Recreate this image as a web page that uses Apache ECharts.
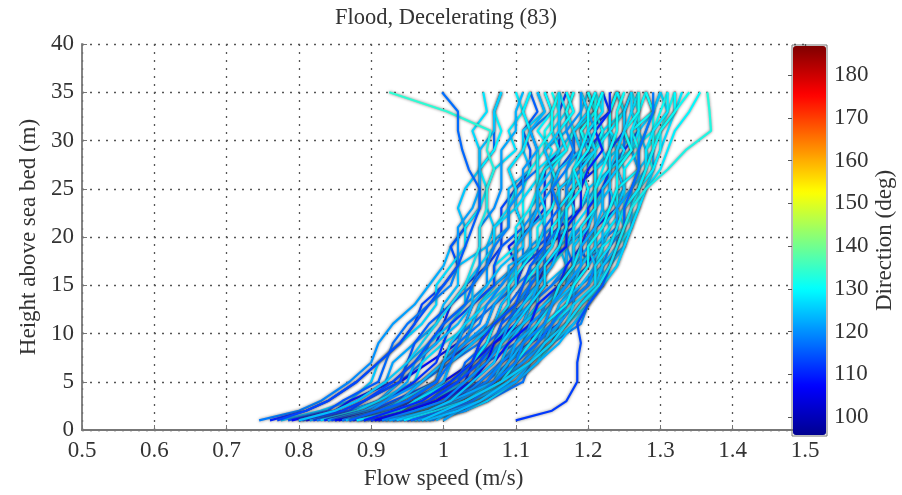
<!DOCTYPE html>
<html><head><meta charset="utf-8">
<script src="https://cdn.jsdelivr.net/npm/echarts@6/dist/echarts.min.js"></script>
<style>html,body{margin:0;padding:0;background:#fff}#c{width:902px;height:495px}</style>
</head><body><div id="c"></div>
<script>
const titleText = 'Flood, Decelerating (83)';
const xName = 'Flow speed (m/s)';
const yName = 'Height above sea bed (m)';
const cbName = 'Direction (deg)';
const heights = [1,2,3,5,7,9,11,13,15,17,19,21,23,25,27,29,31,33,35];
const speeds = [
[.745,.80,.83,.87,.90,.91,.93,.96,.98,1.00,1.01,1.03,1.02,1.03,1.05,1.05,1.04,1.06,1.055],
[.76,.81,.84,.88,.91,.94,.96,.97,1.00,1.02,1.01,1.03,1.05,1.05,1.05,1.07,1.07,1.07,1.08],
[.775,.83,.87,.90,.91,.94,.97,.99,.99,1.01,1.03,1.03,1.05,1.06,1.05,1.07,1.08,1.07,1.08],
[.785,.84,.86,.91,.92,.93,.95,.98,1.01,1.02,1.02,1.02,1.04,1.05,1.05,1.05,1.07,1.07,1.08],
[.79,.85,.87,.93,.96,.99,1.00,1.01,1.03,1.06,1.08,1.08,1.08,1.10,1.12,1.12,1.11,1.13,1.12],
[.80,.85,.88,.92,.93,.96,.99,1.00,1.02,1.02,1.06,1.07,1.06,1.06,1.07,1.10,1.09,1.11,1.10],
[.805,.86,.89,.94,.97,.98,1.00,1.03,1.06,1.06,1.06,1.09,1.09,1.09,1.12,1.11,1.11,1.14,1.13],
[.81,.87,.91,.94,.98,1.02,1.03,1.04,1.07,1.10,1.09,1.12,1.14,1.14,1.14,1.16,1.16,1.16,1.17],
[.815,.87,.91,.94,.95,.98,1.01,1.03,1.03,1.05,1.07,1.07,1.09,1.10,1.09,1.11,1.12,1.11,1.12],
[.82,.87,.89,.94,.95,.96,.98,1.01,1.04,1.05,1.05,1.05,1.07,1.08,1.08,1.08,1.10,1.10,1.11],
[.825,.89,.91,.97,1.00,1.03,1.04,1.05,1.07,1.10,1.12,1.12,1.12,1.14,1.16,1.16,1.15,1.17,1.16],
[.83,.88,.91,.96,.97,1.00,1.04,1.05,1.07,1.07,1.10,1.11,1.11,1.11,1.12,1.14,1.14,1.16,1.15],
[.835,.89,.92,.96,.99,1.00,1.01,1.04,1.07,1.07,1.08,1.11,1.10,1.10,1.13,1.13,1.12,1.15,1.14],
[.84,.90,.94,.97,1.01,1.05,1.06,1.07,1.10,1.13,1.12,1.15,1.17,1.17,1.17,1.19,1.19,1.19,1.20],
[.84,.89,.92,.95,.96,.99,1.02,1.04,1.04,1.06,1.07,1.07,1.10,1.10,1.09,1.11,1.12,1.11,1.12],
[.845,.90,.93,.99,1.00,1.01,1.04,1.07,1.10,1.11,1.11,1.11,1.13,1.15,1.15,1.14,1.17,1.17,1.18],
[.85,.90,.92,.97,1.00,1.02,1.03,1.04,1.06,1.08,1.11,1.11,1.10,1.12,1.14,1.15,1.13,1.15,1.14],
[.85,.91,.94,.99,1.00,1.04,1.07,1.08,1.10,1.11,1.14,1.15,1.15,1.15,1.16,1.18,1.18,1.20,1.19],
[.855,.92,.96,1.00,1.04,1.06,1.07,1.10,1.13,1.14,1.14,1.18,1.18,1.18,1.21,1.20,1.20,1.23,1.22],
[.86,.91,.94,.97,1.00,1.03,1.04,1.05,1.08,1.10,1.10,1.12,1.13,1.13,1.13,1.16,1.15,1.15,1.16],
[.86,.91,.95,.99,1.00,1.03,1.07,1.09,1.09,1.11,1.12,1.12,1.15,1.16,1.15,1.16,1.18,1.17,1.18],
[.865,.92,.94,.99,1.00,1.01,1.03,1.06,1.09,1.10,1.10,1.10,1.12,1.13,1.13,1.13,1.15,1.15,1.16],
[.87,.93,.95,1.01,1.04,1.07,1.08,1.09,1.11,1.14,1.16,1.16,1.16,1.18,1.20,1.20,1.19,1.21,1.20],
[.87,.92,.95,.99,1.00,1.03,1.06,1.07,1.09,1.09,1.13,1.14,1.13,1.13,1.14,1.17,1.16,1.18,1.17],
[.875,.93,.96,1.01,1.04,1.05,1.07,1.10,1.13,1.13,1.13,1.16,1.16,1.16,1.19,1.18,1.18,1.21,1.20],
[.88,.94,.98,1.01,1.05,1.09,1.10,1.11,1.14,1.17,1.16,1.19,1.21,1.21,1.21,1.23,1.23,1.23,1.24],
[.88,.93,.97,1.00,1.01,1.04,1.07,1.09,1.09,1.11,1.13,1.13,1.15,1.16,1.15,1.17,1.18,1.17,1.18],
[.885,.95,.98,1.04,1.05,1.07,1.09,1.12,1.15,1.17,1.17,1.17,1.19,1.21,1.21,1.20,1.23,1.23,1.24],
[.89,.94,.96,1.02,1.05,1.07,1.09,1.10,1.12,1.14,1.16,1.16,1.16,1.18,1.20,1.20,1.19,1.21,1.20],
[.89,.94,.96,1.00,1.01,1.04,1.07,1.08,1.10,1.10,1.13,1.14,1.14,1.13,1.14,1.17,1.16,1.18,1.17],
[.895,.95,.98,1.02,1.05,1.06,1.07,1.10,1.13,1.13,1.14,1.17,1.16,1.16,1.19,1.19,1.18,1.21,1.20],
[.90,.96,.99,1.03,1.06,1.10,1.11,1.12,1.15,1.18,1.17,1.19,1.21,1.21,1.21,1.23,1.23,1.23,1.24],
[.90,.95,.99,1.03,1.04,1.07,1.11,1.13,1.13,1.15,1.16,1.16,1.19,1.20,1.19,1.20,1.22,1.21,1.22],
[.905,.97,1.01,1.06,1.08,1.10,1.12,1.15,1.18,1.20,1.20,1.21,1.23,1.25,1.25,1.24,1.27,1.27,1.28],
[.91,.96,.98,1.03,1.06,1.08,1.09,1.10,1.12,1.14,1.17,1.17,1.16,1.18,1.20,1.21,1.19,1.21,1.20],
[.91,.96,.98,1.02,1.03,1.06,1.09,1.10,1.12,1.12,1.15,1.16,1.16,1.15,1.16,1.19,1.18,1.20,1.19],
[.915,.97,1.00,1.05,1.08,1.09,1.11,1.14,1.17,1.17,1.17,1.20,1.20,1.20,1.23,1.22,1.22,1.25,1.24],
[.92,.98,1.01,1.05,1.08,1.12,1.13,1.14,1.17,1.20,1.19,1.21,1.23,1.23,1.23,1.25,1.25,1.25,1.26],
[.92,.97,1.01,1.04,1.05,1.08,1.11,1.13,1.13,1.15,1.17,1.17,1.19,1.20,1.19,1.21,1.22,1.21,1.22],
[.925,.99,1.03,1.08,1.10,1.12,1.14,1.17,1.20,1.22,1.22,1.23,1.25,1.27,1.27,1.26,1.29,1.29,1.30],
[.93,.98,1.00,1.06,1.09,1.11,1.13,1.14,1.16,1.18,1.20,1.20,1.20,1.22,1.24,1.24,1.23,1.25,1.24],
[.93,.98,1.00,1.04,1.05,1.08,1.11,1.12,1.14,1.14,1.17,1.18,1.18,1.17,1.18,1.21,1.20,1.22,1.21],
[.935,1.00,1.03,1.08,1.11,1.13,1.14,1.17,1.20,1.21,1.21,1.24,1.24,1.24,1.27,1.26,1.26,1.29,1.28],
[.94,.99,1.02,1.05,1.08,1.11,1.12,1.13,1.16,1.18,1.18,1.20,1.21,1.21,1.21,1.24,1.23,1.23,1.24],
[.945,1.00,1.04,1.08,1.09,1.12,1.16,1.18,1.18,1.20,1.21,1.21,1.24,1.25,1.24,1.25,1.27,1.26,1.27],
[.95,1.00,1.02,1.07,1.08,1.09,1.11,1.14,1.17,1.18,1.18,1.18,1.20,1.21,1.21,1.21,1.23,1.23,1.24],
[.95,1.01,1.03,1.09,1.12,1.15,1.16,1.17,1.19,1.22,1.24,1.24,1.24,1.26,1.28,1.28,1.27,1.29,1.28],
[.955,1.01,1.04,1.08,1.09,1.12,1.15,1.16,1.18,1.18,1.22,1.23,1.22,1.22,1.23,1.26,1.25,1.27,1.26],
[.96,1.02,1.06,1.10,1.13,1.15,1.17,1.19,1.21,1.22,1.23,1.25,1.26,1.27,1.29,1.29,1.30,1.32,1.32],
[.96,1.01,1.04,1.08,1.11,1.14,1.16,1.17,1.20,1.22,1.21,1.23,1.25,1.25,1.25,1.27,1.27,1.27,1.28],
[.965,1.02,1.06,1.09,1.10,1.13,1.16,1.18,1.18,1.20,1.22,1.22,1.24,1.25,1.24,1.26,1.27,1.26,1.27],
[.97,1.02,1.05,1.10,1.13,1.15,1.17,1.20,1.22,1.24,1.25,1.25,1.27,1.28,1.29,1.28,1.30,1.31,1.32],
[.97,1.02,1.03,1.08,1.11,1.13,1.14,1.15,1.17,1.19,1.21,1.21,1.21,1.22,1.24,1.25,1.23,1.25,1.24],
[.975,1.03,1.06,1.11,1.12,1.15,1.19,1.20,1.22,1.22,1.25,1.26,1.26,1.26,1.27,1.29,1.29,1.31,1.30],
[.98,1.03,1.06,1.10,1.13,1.14,1.15,1.18,1.21,1.21,1.22,1.25,1.24,1.24,1.27,1.27,1.26,1.29,1.28],
[.98,1.03,1.05,1.08,1.11,1.14,1.15,1.16,1.19,1.21,1.20,1.22,1.24,1.23,1.23,1.26,1.25,1.25,1.26],
[.985,1.00,1.02,1.07,1.11,1.14,1.17,1.19,1.22,1.23,1.25,1.26,1.27,1.28,1.29,1.30,1.31,1.32,1.33],
[.99,1.01,1.04,1.09,1.12,1.15,1.18,1.20,1.21,1.23,1.24,1.26,1.27,1.27,1.29,1.30,1.30,1.32,1.32],
[1.00,1.02,1.04,1.08,1.12,1.15,1.17,1.19,1.22,1.23,1.24,1.25,1.26,1.27,1.28,1.29,1.29,1.30,1.31],
[1.00,1.02,1.035,1.10,1.13,1.16,1.18,1.20,1.22,1.24,1.25,1.26,1.27,1.28,1.30,1.31,1.32,1.34,1.355],
[.87,.91,.95,.99,1.01,1.02,1.05,1.06,1.08,1.10,1.10,1.12,1.13,1.13,1.15,1.14,1.16,1.16,1.16],
[.88,.94,.96,1.01,1.04,1.06,1.07,1.10,1.11,1.13,1.15,1.15,1.17,1.18,1.18,1.20,1.19,1.21,1.21],
[.90,.95,.98,1.02,1.05,1.07,1.08,1.11,1.12,1.14,1.14,1.16,1.17,1.17,1.19,1.19,1.21,1.20,1.21],
[.91,.96,1.00,1.04,1.07,1.09,1.12,1.13,1.16,1.17,1.19,1.20,1.20,1.22,1.23,1.23,1.25,1.25,1.26],
[.92,.96,1.00,1.03,1.06,1.07,1.09,1.11,1.13,1.13,1.15,1.16,1.16,1.18,1.18,1.19,1.20,1.20,1.21],
[.93,.98,1.02,1.06,1.08,1.11,1.12,1.15,1.16,1.18,1.19,1.21,1.21,1.23,1.23,1.24,1.25,1.25,1.26],
[.94,.98,1.02,1.07,1.09,1.10,1.13,1.15,1.16,1.18,1.18,1.20,1.21,1.21,1.23,1.23,1.24,1.24,1.25],
[.95,1.00,1.03,1.08,1.10,1.13,1.15,1.17,1.20,1.21,1.23,1.24,1.24,1.26,1.27,1.27,1.28,1.29,1.30],
[.96,1.00,1.03,1.07,1.10,1.11,1.13,1.15,1.16,1.18,1.19,1.19,1.21,1.21,1.22,1.23,1.24,1.24,1.25],
[.89,.93,.97,1.01,1.04,1.05,1.07,1.10,1.11,1.12,1.14,1.14,1.16,1.15,1.17,1.18,1.17,1.19,1.19],
[.905,.95,.99,1.04,1.06,1.07,1.10,1.12,1.14,1.14,1.17,1.17,1.19,1.19,1.20,1.22,1.21,1.23,1.23],
[.915,.96,1.00,1.03,1.06,1.08,1.09,1.12,1.13,1.15,1.16,1.17,1.17,1.19,1.19,1.21,1.20,1.22,1.22],
[.925,.98,1.01,1.07,1.09,1.11,1.14,1.15,1.18,1.19,1.21,1.21,1.23,1.24,1.24,1.26,1.26,1.27,1.27],
[.935,.98,1.01,1.04,1.07,1.08,1.10,1.12,1.14,1.14,1.16,1.17,1.17,1.19,1.18,1.20,1.21,1.21,1.22],
[.945,.99,1.03,1.08,1.10,1.12,1.14,1.17,1.18,1.20,1.20,1.22,1.23,1.24,1.24,1.26,1.25,1.27,1.27],
[.955,1.00,1.04,1.07,1.10,1.11,1.14,1.15,1.17,1.19,1.19,1.21,1.22,1.22,1.24,1.24,1.25,1.26,1.26],
[.965,1.01,1.05,1.10,1.12,1.14,1.17,1.19,1.21,1.22,1.24,1.25,1.25,1.27,1.28,1.28,1.29,1.31,1.31],
[.975,1.02,1.05,1.09,1.12,1.14,1.17,1.18,1.21,1.21,1.23,1.24,1.25,1.27,1.28,1.29,1.30,1.32,1.34],
[.80,.86,.89,.93,.96,.98,1.00,1.03,1.04,1.06,1.07,1.09,1.09,1.11,1.11,1.13,1.12,1.14,1.13],
[1.10,1.15,1.17,1.185,1.185,1.19,1.185,1.20,1.22,1.23,1.24,1.25,1.25,1.26,1.27,1.27,1.28,1.29,1.29],
[.80,.85,.88,.92,.95,.97,.99,1.01,1.03,1.04,1.05,1.05,1.06,1.06,1.07,1.06,1.065,1.005,.925],
[.77,.81,.84,.88,.91,.94,.96,.98,1.00,1.02,1.03,1.04,1.05,1.05,1.035,1.026,1.02,1.02,.998],
[.97,1.00,1.03,1.08,1.12,1.15,1.17,1.19,1.215,1.23,1.24,1.25,1.26,1.28,1.31,1.335,1.37,1.368,1.365]
];
const dirBottom = [118,110,124,114,108,120,116,106,122,112,
118,126,110,116,121,113,119,108,106,122,
117,124,112,118,109,120,126,115,111,121,
117,113,108,119,123,114,118,110,125,127,
116,120,112,118,107,122,115,119,113,124,
118,128,121,116,125,120,118,123,126,121,
115,127,112,108,122,117,120,114,125,110,
106,118,121,124,127,116,120,123,112,
112,124,113,124];
const dirTop = [128,118,130,126,116,129,127,112,130,124,
128,131,120,126,129,125,130,117,111,129,
127,131,123,128,118,129,131,126,122,130,
128,125,112,129,131,127,128,119,131,130,
127,129,124,128,112,130,126,129,125,130,
128,131,129,127,131,129,128,130,131,130,
126,131,123,113,130,127,129,125,131,121,
111,128,129,130,131,127,129,131,124,
118,134,117,133];
const colorbarTicks = [100,110,120,130,140,150,160,170,180];
const dirMin = 95.8, dirMax = 186.8;
const jetColors = ['#000090','#0000ff','#0080ff','#00ffff','#80ff80','#ffff00','#ff8000','#ff0000','#800000'];

function hex(h){ return [1,3,5].map(i=>parseInt(h.substr(i,2),16)); }
function jet(d){
  let t=(d-dirMin)/(dirMax-dirMin); t=Math.max(0,Math.min(1,t));
  const p=t*(jetColors.length-1); const i=Math.min(Math.floor(p), jetColors.length-2); const f=p-i;
  const a=hex(jetColors[i]), b=hex(jetColors[i+1]);
  return 'rgb('+a.map((v,k)=>Math.round(v+(b[k]-v)*f)).join(',')+')';
}
const font = '"Liberation Serif", "Times New Roman", serif';
const tick = {fontFamily:font, fontSize:23, color:'#333'};
const nameStyle = {fontFamily:font, fontSize:23, color:'#333'};
const chart = echarts.init(document.getElementById('c'), null, {renderer:'canvas'});
const series = speeds.map((row,i)=>({
  type:'line', xAxisIndex:0, yAxisIndex:0, silent:true, symbol:'none', showSymbol:false,
  data: row.map((v,j)=>[v, heights[j]]),
  lineStyle:{width:2.2,
    color:new echarts.graphic.LinearGradient(0,1,0,0,[{offset:0,color:jet(dirBottom[i])},{offset:1,color:jet(dirTop[i])}]),
    shadowColor:'rgba(60,60,60,0.65)', shadowBlur:3}
}));
series.push({type:'scatter', xAxisIndex:1, yAxisIndex:1, data:[], silent:true});

chart.setOption({
  animation:false,
  title:{text:titleText, left:441, top:2, textAlign:'center', textStyle:{fontFamily:font, fontSize:22.5, fontWeight:'normal', color:'#333'}},
  grid:[
    {left:82, top:44, width:723, height:387},
    {left:792, top:45, width:35, height:391, show:true, borderColor:'#777', borderWidth:1, backgroundColor:'transparent'}
  ],
  xAxis:[
    {type:'value', gridIndex:0, min:0.5, max:1.5, interval:0.1,
     axisLine:{show:true, onZero:false, lineStyle:{color:'#777', width:1.8}},
     axisTick:{show:true, inside:true, length:5, lineStyle:{color:'#777'}},
     axisLabel:Object.assign({margin:9, formatter:v=>String(Math.round(v*10)/10)}, tick),
     splitLine:{show:true, lineStyle:{color:'#555', type:[2,6], width:1.3}},
     name:xName, nameLocation:'middle', nameGap:37, nameTextStyle:nameStyle},
    {type:'value', gridIndex:1, show:false, min:0, max:1}
  ],
  yAxis:[
    {type:'value', gridIndex:0, min:0, max:40, interval:5,
     axisLine:{show:true, onZero:false, lineStyle:{color:'#777', width:1.8}},
     axisTick:{show:true, inside:true, length:5, lineStyle:{color:'#777'}},
     axisLabel:Object.assign({margin:8}, tick),
     splitLine:{show:true, lineStyle:{color:'#555', type:[2,6], width:1.3}},
     name:yName, nameLocation:'middle', nameRotate:90, nameGap:41, nameTextStyle:nameStyle},
    {type:'value', gridIndex:1, min:95.57, max:187.03, position:'right', z:10,
     axisLine:{show:false}, splitLine:{show:false},
     axisTick:{show:true, inside:true, length:4, lineStyle:{color:'#555'}, customValues:colorbarTicks},
     axisLabel:Object.assign({margin:7, customValues:colorbarTicks}, tick),
     name:cbName, nameLocation:'middle', nameRotate:90, nameGap:46, nameTextStyle:nameStyle}
  ],
  visualMap:{type:'continuous', min:dirMin, max:dirMax, left:793, top:46, itemWidth:33, itemHeight:389,
    calculable:false, padding:0, text:null, hoverLink:false, seriesIndex:[series.length-1],
    inRange:{color:jetColors}, z:5},
  series:series
});
</script></body></html>
